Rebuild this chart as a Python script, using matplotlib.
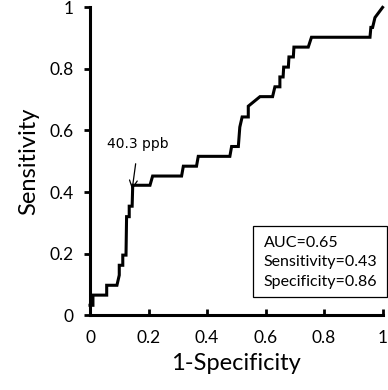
import matplotlib
matplotlib.use("Agg")
import matplotlib.pyplot as plt
from matplotlib.patches import Rectangle

# ROC points (1-specificity, sensitivity)
fpr = [0.0, 0.01, 0.01, 0.057, 0.057, 0.092, 0.1, 0.1, 0.112, 0.112, 0.123, 0.125,
       0.134, 0.134, 0.144, 0.146, 0.205, 0.214, 0.313, 0.319, 0.364, 0.37, 0.478,
       0.484, 0.507, 0.512, 0.52, 0.541, 0.541, 0.581, 0.624, 0.632, 0.649, 0.649,
       0.66, 0.662, 0.678, 0.68, 0.695, 0.697, 0.746, 0.757, 0.957, 0.96, 0.966,
       0.974, 1.0]
tpr = [0.032, 0.032, 0.065, 0.065, 0.097, 0.097, 0.13, 0.162, 0.162, 0.195, 0.195, 0.32,
       0.32, 0.354, 0.354, 0.422, 0.422, 0.452, 0.452, 0.484, 0.484, 0.516, 0.516,
       0.548, 0.548, 0.611, 0.644, 0.644, 0.679, 0.71, 0.71, 0.742, 0.742, 0.774,
       0.774, 0.806, 0.806, 0.839, 0.839, 0.871, 0.871, 0.903, 0.903, 0.935, 0.935,
       0.967, 1.0]

ticks = [0, 0.2, 0.4, 0.6, 0.8, 1]
tick_labels = ["0", "0.2", "0.4", "0.6", "0.8", "1"]
cutoff_label = "40.3 ppb"
cutoff_point = (0.144, 0.408)
stats = ["AUC=0.65", "Sensitivity=0.43", "Specificity=0.86"]

FONT = "Lato"

fig = plt.figure(figsize=(3.88, 3.90), dpi=100)
ax = fig.add_axes([0.232, 0.192, 0.754, 0.789])

ax.plot(fpr, tpr, color="black", lw=2.2, clip_on=False, solid_joinstyle="miter")

ax.set_xlim(0, 1)
ax.set_ylim(0, 1)
ax.set_xticks(ticks)
ax.set_yticks(ticks)
ax.set_xticklabels(tick_labels, fontfamily=FONT, fontsize=12.5)
ax.set_yticklabels(tick_labels, fontfamily=FONT, fontsize=12.5)

for s in ["top", "right"]:
    ax.spines[s].set_visible(False)
for s in ["left", "bottom"]:
    ax.spines[s].set_linewidth(2.2)

ax.tick_params(axis="y", direction="out", length=4, width=2, pad=8)
ax.tick_params(axis="x", direction="in", length=4, width=2, pad=11)

ax.set_xlabel("1-Specificity", fontfamily=FONT, fontsize=17, labelpad=5)
ax.set_ylabel("Sensitivity", fontfamily=FONT, fontsize=17, labelpad=7)

ax.annotate(cutoff_label, xy=cutoff_point, xytext=(0.165, 0.555),
            ha="center", va="center", fontsize=10, fontfamily="DejaVu Sans",
            arrowprops=dict(arrowstyle="->", color="black", lw=0.9,
                            shrinkA=7, shrinkB=0, mutation_scale=14))

box = Rectangle((0.558, 0.059), 0.456, 0.230, transform=ax.transData,
                fill=False, edgecolor="black", lw=0.9, clip_on=False)
ax.add_patch(box)
for i, line in enumerate(stats):
    ax.text(0.593, 0.236 - i * 0.064, line, ha="left", va="center",
            fontfamily=FONT, fontsize=11.5)

fig.savefig("out.png", dpi=100)
